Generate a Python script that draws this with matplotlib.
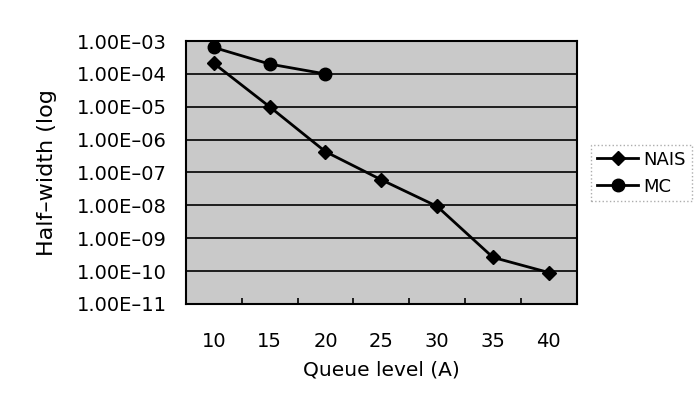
import numpy as np
import matplotlib.pyplot as plt
from matplotlib.ticker import FixedLocator, NullLocator

plt.rcParams['font.family'] = ['DejaVu Sans']

queue_levels = ['10', '15', '20', '25', '30', '35', '40']
nais = [2.1e-4, 1.0e-5, 4.3e-7, 6.0e-8, 9.3e-9, 2.6e-10, 9.0e-11]
mc = [6.4e-4, 2.0e-4, 1.0e-4]
y_ticks = [1e-11, 1e-10, 1e-9, 1e-8, 1e-7, 1e-6, 1e-5, 1e-4, 1e-3]
y_labels = ['1.00E\u201311', '1.00E\u201310', '1.00E\u201309', '1.00E\u201308',
            '1.00E\u201307', '1.00E\u201306', '1.00E\u201305', '1.00E\u201304',
            '1.00E\u201303']

fig = plt.figure(figsize=(6.99, 4.03), dpi=100)
ax = fig.add_axes([0.266, 0.246, 0.559, 0.652])

x = np.arange(len(queue_levels))
ax.plot(x, nais, color='black', linewidth=2, marker='D', markersize=7, label='NAIS')
ax.plot(x[:len(mc)], mc, color='black', linewidth=2, marker='o', markersize=9, label='MC')

ax.set_yscale('log')
ax.set_ylim(1e-11, 1e-3)
ax.set_xlim(-0.5, len(queue_levels) - 0.5)
ax.set_facecolor('#c9c9c9')

ax.yaxis.set_major_locator(FixedLocator(y_ticks))
ax.yaxis.set_minor_locator(NullLocator())
ax.set_yticklabels(y_labels)
ax.set_xticks(x)
ax.set_xticklabels(queue_levels)
ax.set_xticks(x[:-1] + 0.5, minor=True)

ax.tick_params(axis='y', which='both', length=0, pad=14, labelsize=14)
ax.tick_params(axis='x', which='major', length=0, pad=20, labelsize=14)
ax.tick_params(axis='x', which='minor', direction='in', length=4, width=1.2)

ax.grid(True, axis='y', color='black', linewidth=1.2)
ax.set_axisbelow(True)
for s in ax.spines.values():
    s.set_linewidth(1.5)

ax.set_xlabel('Queue level (A)', fontsize=14.5, labelpad=7)
ax.set_ylabel('Half\u2013width (log', fontsize=16, labelpad=14)

leg = ax.legend(loc='center left', bbox_to_anchor=(0.846, 0.57), bbox_transform=fig.transFigure,
                fontsize=13, frameon=True, fancybox=False, handlelength=2.3,
                borderpad=0.3, labelspacing=0.5, handletextpad=0.3, borderaxespad=0)
leg.get_frame().set_edgecolor('#999999')
leg.get_frame().set_linestyle(':')
leg.get_frame().set_linewidth(1)

fig.savefig('out.png', dpi=100)
